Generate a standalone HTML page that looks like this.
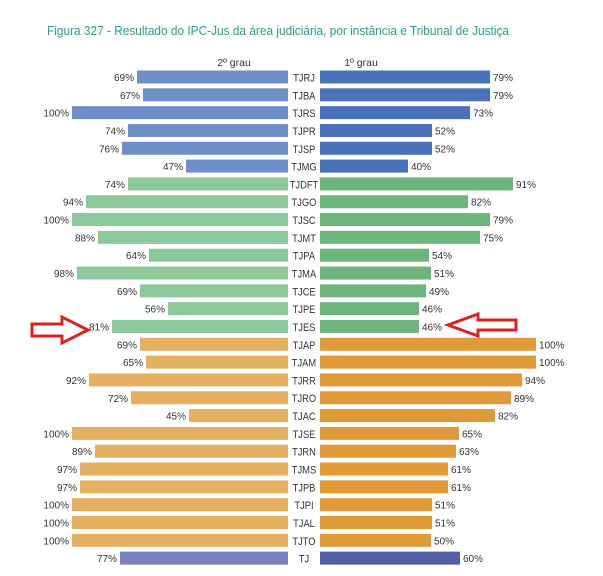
<!DOCTYPE html>
<html><head><meta charset="utf-8"><style>
html,body{margin:0;padding:0;background:#fff;}
svg{display:block;}
text{font-family:"Liberation Sans",sans-serif;}
</style></head><body>
<svg width="603" height="576" viewBox="0 0 603 576" xmlns="http://www.w3.org/2000/svg">
<rect width="603" height="576" fill="#fff"/>
<text x="47" y="35" font-size="12.5" fill="#2a9d8f" textLength="462" lengthAdjust="spacingAndGlyphs">Figura 327 - Resultado do IPC-Jus da área judiciária, por instância e Tribunal de Justiça</text>
<text x="234" y="66" font-size="10.5" fill="#333" text-anchor="middle">2º grau</text>
<text x="361" y="66" font-size="10.5" fill="#333" text-anchor="middle">1º grau</text>
<g id="rows"></g>
<g fill="#fff" stroke="#e02020" stroke-width="3">
<polygon points="32,324 62,324 62,317 88,330 62,343 62,336 32,336"/>
<polygon points="516,320 478,320 478,314 448,325 478,336 478,330 516,330"/>
</g>
</svg>
<script>
var d=[["TJRJ",69,79,137,490,0],["TJBA",67,79,143,490,0],["TJRS",100,73,72,470,0],["TJPR",74,52,128,432,0],["TJSP",76,52,122,432,0],["TJMG",47,40,186,408,0],
["TJDFT",74,91,128,513,1],["TJGO",94,82,86,468,1],["TJSC",100,79,72,490,1],["TJMT",88,75,98,480,1],["TJPA",64,54,149,429,1],["TJMA",98,51,77,431,1],["TJCE",69,49,140,426,1],["TJPE",56,46,168,419,1],["TJES",81,46,112,419,1],
["TJAP",69,100,140,536,2],["TJAM",65,100,146,536,2],["TJRR",92,94,89,522,2],["TJRO",72,89,131,511,2],["TJAC",45,82,189,495,2],["TJSE",100,65,72,459,2],["TJRN",89,63,95,456,2],["TJMS",97,61,80,448,2],["TJPB",97,61,80,448,2],["TJPI",100,51,72,432,2],["TJAL",100,51,72,432,2],["TJTO",100,50,72,431,2],["TJ",77,60,120,460,3]];
var cl=[["#6f8fc8","#4a72b8"],["#8cc89a","#6db57d"],["#e5b062","#e09a38"],["#7a80bf","#525ea6"]];
var s="";
d.forEach(function(r,i){var y=70.5+i*17.82;var c=cl[r[5]];
s+='<rect x="'+r[3]+'" y="'+y+'" width="'+(288-r[3])+'" height="13" fill="'+c[0]+'"/>';
s+='<rect x="320" y="'+y+'" width="'+(r[4]-320)+'" height="13" fill="'+c[1]+'"/>';
s+='<text x="'+(r[3]-3)+'" y="'+(y+10.5)+'" font-size="10" fill="#333" text-anchor="end">'+r[1]+'%</text>';
s+='<text x="'+(r[4]+3)+'" y="'+(y+10.5)+'" font-size="10" fill="#333">'+r[2]+'%</text>';
s+='<text x="304" y="'+(y+11)+'" font-size="11" fill="#333" text-anchor="middle" transform="translate(304 0) scale(0.85 1) translate(-304 0)">'+r[0]+'</text>';});
document.getElementById("rows").innerHTML=s;
</script>
</body></html>
